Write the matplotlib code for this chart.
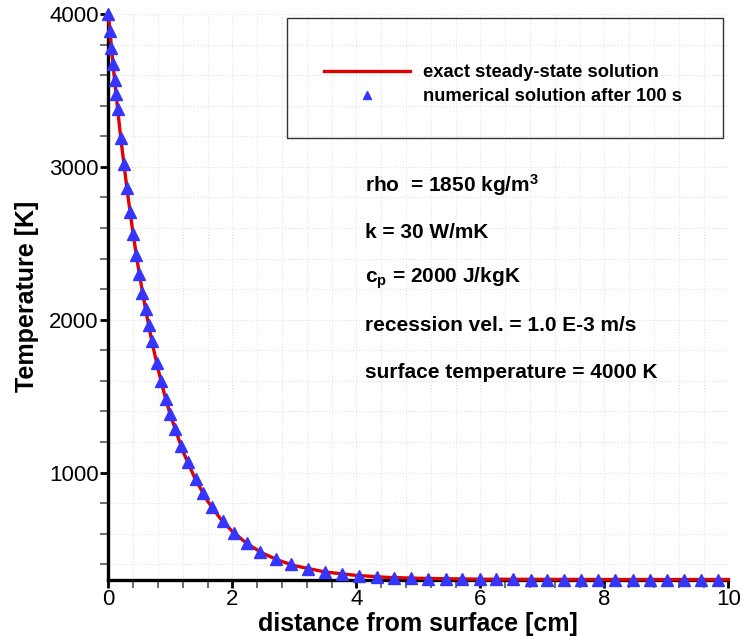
import numpy as np
import matplotlib
matplotlib.use("Agg")
import matplotlib.pyplot as plt
from matplotlib.patches import Rectangle
from matplotlib.lines import Line2D
from matplotlib.ticker import MultipleLocator

plt.rcParams['font.family'] = ['Liberation Sans', 'DejaVu Sans']
plt.rcParams['mathtext.fontset'] = 'custom'
plt.rcParams['mathtext.rm'] = 'Liberation Sans:bold'
plt.rcParams['mathtext.bf'] = 'Liberation Sans:bold'
plt.rcParams['mathtext.default'] = 'rm'

# exact steady-state solution
exact_x = [0.0, 0.1, 0.2, 0.3, 0.4, 0.5, 0.6, 0.7, 0.8, 0.9, 1.0, 1.2, 1.4, 1.6,
           1.8, 2.0, 2.25, 2.5, 2.75, 3.0, 3.5, 4.0, 4.5, 5.0, 6.0, 7.0, 8.0,
           9.0, 10.0]
exact_T = [4000, 3571, 3191, 2859, 2560, 2299, 2070, 1863, 1680, 1520, 1378,
           1142, 959, 814, 702, 614, 531, 470, 425, 391, 349, 327, 314, 308,
           302, 301, 300, 300, 300]

# numerical solution after 100 s (triangles)
num_x = [0.0, 0.025, 0.05, 0.075, 0.10, 0.125, 0.15, 0.20, 0.25, 0.30, 0.35,
         0.40, 0.45, 0.50, 0.55, 0.60, 0.65, 0.70, 0.78, 0.85, 0.93, 1.00,
         1.07, 1.17, 1.28, 1.41, 1.53, 1.67, 1.85, 2.03, 2.23, 2.45, 2.70,
         2.95, 3.22, 3.50, 3.77, 4.05, 4.33, 4.60, 4.88, 5.16, 5.44, 5.71,
         5.99, 6.26, 6.53, 6.81, 7.08, 7.35, 7.63, 7.90, 8.18, 8.46, 8.73,
         9.01, 9.28, 9.56, 9.83]
num_T = [4000, 3889, 3780, 3676, 3571, 3475, 3380, 3191, 3021, 2859, 2704,
         2560, 2425, 2299, 2178, 2070, 1963, 1863, 1720, 1597, 1480, 1380,
         1286, 1172, 1067, 961, 867, 773, 680, 606, 540, 480, 433,
         401, 372, 350, 336, 325, 318, 313, 309, 306, 304, 303,
         302, 301, 301, 300, 300, 300, 300, 300, 300, 300, 300,
         300, 300, 300, 300]

params = [
    r'rho  = 1850 kg/m$^{3}$',
    'k = 30 W/mK',
    r'c$_{p}$ = 2000 J/kgK',
    'recession vel. = 1.0 E-3 m/s',
    'surface temperature = 4000 K',
]
param_y = [0.698, 0.614, 0.533, 0.450, 0.367]

red = '#dd0000'
blue = '#3535ff'

fig = plt.figure(figsize=(7.41, 6.36), dpi=100)
ax = fig.add_axes([0.1462, 0.0888, 0.8367, 0.889])

ax.plot(exact_x, exact_T, color=red, lw=2.4, zorder=3, clip_on=False)
ax.plot(num_x, num_T, ls='none', marker='^', ms=8.5, color=blue, mec=blue,
        zorder=4, clip_on=False)

ax.set_xlim(0, 10)
ax.set_ylim(300, 4000)
ax.xaxis.set_major_locator(MultipleLocator(2))
ax.xaxis.set_minor_locator(MultipleLocator(0.4))
ax.yaxis.set_major_locator(MultipleLocator(1000))
ax.yaxis.set_minor_locator(MultipleLocator(200))

ax.grid(True, which='both', color='#e2e2e2', ls=':', lw=0.8)
ax.set_axisbelow(True)

for s in ['top', 'right']:
    ax.spines[s].set_visible(False)
for s in ['left', 'bottom']:
    ax.spines[s].set_linewidth(2.4)

ax.tick_params(which='major', direction='out', length=6, width=2, pad=1,
               labelsize=16, color='black')
ax.tick_params(which='minor', direction='out', length=6, width=1.2,
               color='#555555')

ax.set_xlabel('distance from surface [cm]', fontsize=18, fontweight='bold',
              labelpad=1)
ax.set_ylabel('Temperature [K]', fontsize=18, fontweight='bold', labelpad=7)

# legend box
ax.add_patch(Rectangle((0.288, 0.781), 0.703, 0.212, transform=ax.transAxes,
                       fill=False, ec='#333333', lw=1, zorder=5))
handles = [Line2D([], [], color=red, lw=2.4),
           Line2D([], [], ls='none', marker='^', ms=6, color=blue)]
ax.legend(handles, ['exact steady-state solution',
                    'numerical solution after 100 s'],
          loc='center left', bbox_to_anchor=(0.333, 0.875), frameon=False,
          borderpad=0, handlelength=4.7, handletextpad=0.7, labelspacing=0.36,
          prop={'weight': 'bold', 'size': 13.2})

for txt, y in zip(params, param_y):
    ax.text(0.414, y, txt, transform=ax.transAxes, fontsize=15,
            fontweight='bold', va='center', ha='left')

fig.savefig('out.png', dpi=100)
